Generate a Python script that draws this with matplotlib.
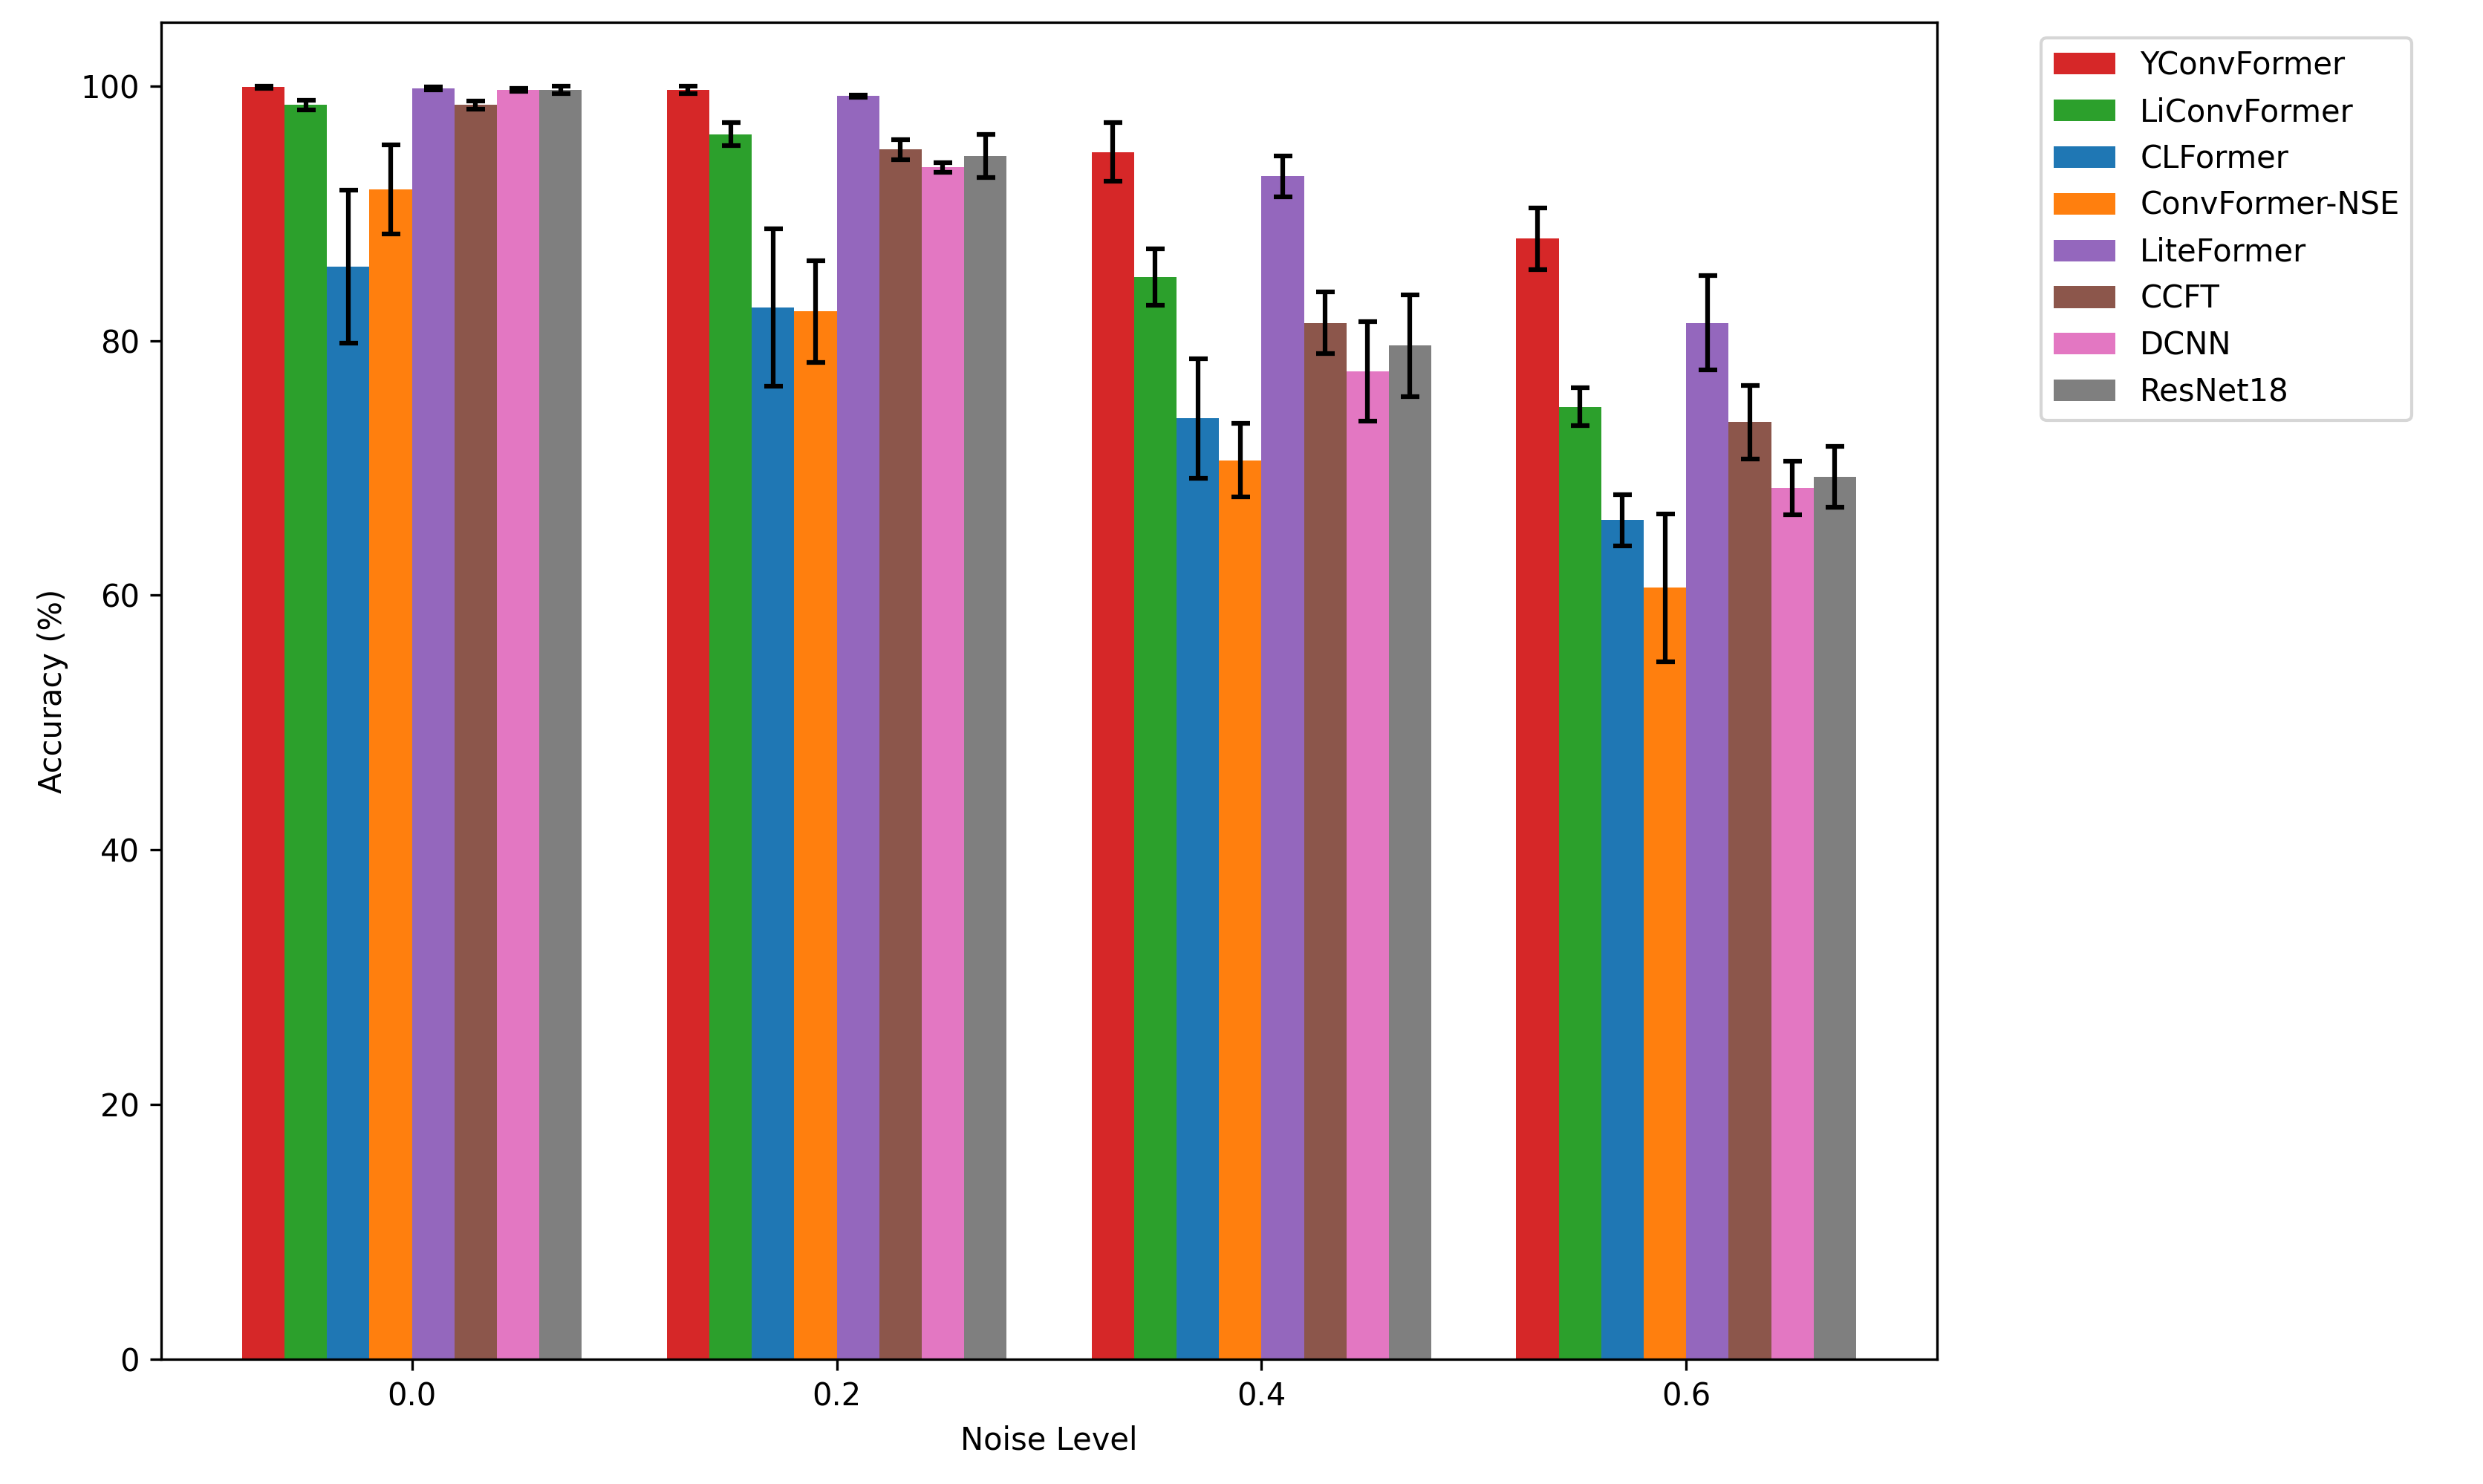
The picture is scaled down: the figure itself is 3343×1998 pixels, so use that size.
import matplotlib
matplotlib.use("Agg")
import matplotlib.pyplot as plt
import numpy as np

noise_levels = ["0.0", "0.2", "0.4", "0.6"]
models = ["YConvFormer", "LiConvFormer", "CLFormer", "ConvFormer-NSE",
          "LiteFormer", "CCFT", "DCNN", "ResNet18"]
colors = ["#d62728", "#2ca02c", "#1f77b4", "#ff7f0e",
          "#9467bd", "#8c564b", "#e377c2", "#7f7f7f"]
means = [
    [99.9, 99.7, 94.8, 88.0],
    [98.5, 96.2, 85.0, 74.8],
    [85.8, 82.6, 73.9, 65.9],
    [91.9, 82.3, 70.6, 60.6],
    [99.8, 99.2, 92.9, 81.4],
    [98.5, 95.0, 81.4, 73.6],
    [99.7, 93.6, 77.6, 68.4],
    [99.7, 94.5, 79.6, 69.3],
]
errors = [
    [0.1, 0.3, 2.3, 2.4],
    [0.4, 0.9, 2.2, 1.5],
    [6.0, 6.2, 4.7, 2.0],
    [3.5, 4.0, 2.9, 5.8],
    [0.1, 0.1, 1.6, 3.7],
    [0.3, 0.8, 2.4, 2.9],
    [0.1, 0.4, 3.9, 2.1],
    [0.3, 1.7, 4.0, 2.4],
]

fig = plt.figure(figsize=(3343/300, 1998/300), dpi=300)
ax = fig.add_axes([0.065, 0.084, 0.715, 0.901])
x = np.arange(len(noise_levels))
w = 0.1
for i, (m, c) in enumerate(zip(models, colors)):
    ax.bar(x + (i - 3.5) * w, means[i], w, yerr=errors[i], color=c, label=m,
           capsize=3, error_kw=dict(elinewidth=1.5, capthick=1.5, ecolor="black"))
ax.set_xticks(x)
ax.set_xticklabels(noise_levels)
ax.set_ylim(0, 105)
ax.set_xlim(-0.59, 3.59)
ax.set_xlabel("Noise Level")
ax.set_ylabel("Accuracy (%)")
ax.legend(loc="upper left", bbox_to_anchor=(1.05, 1.0), fontsize=10)
fig.savefig("out.png", dpi=300)
